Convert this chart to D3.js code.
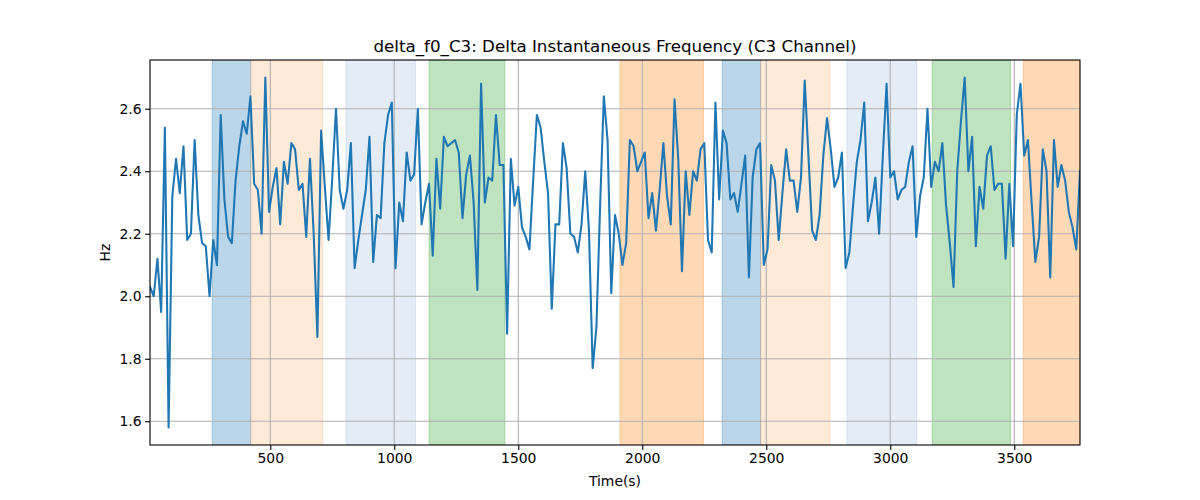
<!DOCTYPE html>
<html>
<head>
<meta charset="utf-8">
<script src="https://cdn.jsdelivr.net/npm/d3@7"></script>
<style>
  body { margin: 0; background: #fff; }
  text { font-family: "DejaVu Sans", sans-serif; fill: #000; }
</style>
</head>
<body>
<script>
var WIDTH = 1200,
    HEIGHT = 500;

var margin = {top: 60, right: 120, bottom: 55, left: 150};

// sample times (s)
var times = [
  15, 30, 45, 60, 75, 90, 105, 120, 135, 150, 165, 180, 195, 210, 225, 240, 255, 270, 285, 300,
  315, 330, 345, 360, 375, 390, 405, 420, 435, 450, 465, 480, 495, 510, 525, 540, 555, 570, 585, 600,
  615, 630, 645, 660, 675, 690, 705, 720, 735, 750, 765, 780, 795, 810, 825, 840, 855, 870, 885, 900,
  915, 930, 945, 960, 975, 990, 1005, 1020, 1035, 1050, 1065, 1080, 1095, 1110, 1125, 1140, 1155, 1170, 1185, 1200,
  1215, 1230, 1245, 1260, 1275, 1290, 1305, 1320, 1335, 1350, 1365, 1380, 1395, 1410, 1425, 1440, 1455, 1470, 1485, 1500,
  1515, 1530, 1545, 1560, 1575, 1590, 1605, 1620, 1635, 1650, 1665, 1680, 1695, 1710, 1725, 1740, 1755, 1770, 1785, 1800,
  1815, 1830, 1845, 1860, 1875, 1890, 1905, 1920, 1935, 1950, 1965, 1980, 1995, 2010, 2025, 2040, 2055, 2070, 2085, 2100,
  2115, 2130, 2145, 2160, 2175, 2190, 2205, 2220, 2235, 2250, 2265, 2280, 2295, 2310, 2325, 2340, 2355, 2370, 2385, 2400,
  2415, 2430, 2445, 2460, 2475, 2490, 2505, 2520, 2535, 2550, 2565, 2580, 2595, 2610, 2625, 2640, 2655, 2670, 2685, 2700,
  2715, 2730, 2745, 2760, 2775, 2790, 2805, 2820, 2835, 2850, 2865, 2880, 2895, 2910, 2925, 2940, 2955, 2970, 2985, 3000,
  3015, 3030, 3045, 3060, 3075, 3090, 3105, 3120, 3135, 3150, 3165, 3180, 3195, 3210, 3225, 3240, 3255, 3270, 3285, 3300,
  3315, 3330, 3345, 3360, 3375, 3390, 3405, 3420, 3435, 3450, 3465, 3480, 3495, 3510, 3525, 3540, 3555, 3570, 3585, 3600,
  3615, 3630, 3645, 3660, 3675, 3690, 3705, 3720, 3735, 3750, 3765
];

// delta f0, C3 channel (Hz)
var deltaF0 = [
  2.03, 2.00, 2.12, 1.95, 2.54, 1.58, 2.32, 2.44, 2.33, 2.48, 2.18, 2.20, 2.50, 2.26, 2.17, 2.16, 2.00, 2.18, 2.10, 2.58,
  2.31, 2.19, 2.17, 2.37, 2.48, 2.56, 2.52, 2.64, 2.36, 2.34, 2.20, 2.70, 2.27, 2.35, 2.41, 2.23, 2.43, 2.36, 2.49, 2.47,
  2.34, 2.36, 2.19, 2.44, 2.20, 1.87, 2.53, 2.35, 2.18, 2.38, 2.60, 2.34, 2.28, 2.34, 2.49, 2.09, 2.18, 2.26, 2.34, 2.51,
  2.11, 2.26, 2.25, 2.49, 2.58, 2.62, 2.09, 2.30, 2.24, 2.46, 2.37, 2.39, 2.60, 2.23, 2.30, 2.36, 2.13, 2.44, 2.28, 2.51,
  2.48, 2.49, 2.50, 2.46, 2.25, 2.39, 2.45, 2.30, 2.02, 2.68, 2.30, 2.38, 2.37, 2.58, 2.42, 2.42, 1.88, 2.44, 2.29, 2.35,
  2.22, 2.19, 2.15, 2.37, 2.58, 2.54, 2.43, 2.33, 1.96, 2.23, 2.23, 2.49, 2.41, 2.20, 2.19, 2.14, 2.23, 2.40, 2.21, 1.77,
  1.90, 2.29, 2.64, 2.50, 2.01, 2.26, 2.20, 2.10, 2.17, 2.50, 2.48, 2.40, 2.43, 2.46, 2.25, 2.33, 2.21, 2.34, 2.49, 2.32,
  2.23, 2.63, 2.44, 2.08, 2.40, 2.26, 2.40, 2.37, 2.47, 2.49, 2.18, 2.14, 2.62, 2.31, 2.53, 2.49, 2.31, 2.33, 2.27, 2.36,
  2.45, 2.06, 2.38, 2.47, 2.49, 2.10, 2.15, 2.42, 2.37, 2.18, 2.33, 2.47, 2.37, 2.37, 2.27, 2.38, 2.69, 2.45, 2.21, 2.18,
  2.26, 2.45, 2.57, 2.47, 2.35, 2.38, 2.46, 2.09, 2.14, 2.29, 2.43, 2.50, 2.62, 2.24, 2.30, 2.38, 2.20, 2.45, 2.68, 2.38,
  2.40, 2.31, 2.34, 2.35, 2.43, 2.48, 2.19, 2.32, 2.38, 2.60, 2.35, 2.43, 2.40, 2.49, 2.29, 2.17, 2.03, 2.40, 2.56, 2.70,
  2.40, 2.51, 2.16, 2.35, 2.28, 2.45, 2.48, 2.34, 2.36, 2.36, 2.12, 2.36, 2.16, 2.58, 2.68, 2.45, 2.50, 2.30, 2.11, 2.19,
  2.47, 2.40, 2.06, 2.50, 2.35, 2.42, 2.37, 2.27, 2.22, 2.15, 2.40
];

// shaded intervals (s) and their kind
var spanStart = [266, 421, 805, 1140, 1910, 2322, 2477, 2825, 3169, 3536];
var spanEnd   = [421, 711, 1086, 1446, 2247, 2477, 2757, 3107, 3485, 3765];
var spanKind  = ["blue", "peach", "pale", "green", "orange", "blue", "peach", "pale", "green", "orange"];

var xTicks = [500, 1000, 1500, 2000, 2500, 3000, 3500];
var yTicks = [1.6, 1.8, 2.0, 2.2, 2.4, 2.6];

var spanFill = {
  blue:   {c: "#1f77b4", a: 0.3},
  peach:  {c: "#ff7f0e", a: 0.16},
  pale:   {c: "#4c7fc8", a: 0.15},
  green:  {c: "#2ca02c", a: 0.3},
  orange: {c: "#ff7f0e", a: 0.3}
};

var data = times.map(function(t, i) { return {t: t, v: deltaF0[i]}; });
var spans = spanStart.map(function(s, i) { return {s: s, e: spanEnd[i], k: spanKind[i]}; });

var w = WIDTH - margin.left - margin.right,
    h = HEIGHT - margin.top - margin.bottom;

var ext = d3.extent(deltaF0),
    pad = (ext[1] - ext[0]) * 0.05;

var x = d3.scaleLinear().domain(d3.extent(times)).range([0, w]);
var y = d3.scaleLinear().domain([ext[0] - pad, ext[1] + pad]).range([h, 0]);

var svg = d3.select("body").append("svg")
      .attr("width", WIDTH)
      .attr("height", HEIGHT);

var g = svg.append("g")
      .attr("transform", "translate(" + margin.left + "," + margin.top + ")");

g.append("defs").append("clipPath").attr("id", "clip")
  .append("rect").attr("width", w).attr("height", h);

var plot = g.append("g").attr("clip-path", "url(#clip)");

// shaded spans
plot.selectAll(".span").data(spans)
  .enter().append("rect")
  .attr("class", "span")
  .attr("x", function(d) { return x(d.s); })
  .attr("y", 0)
  .attr("width", function(d) { return x(d.e) - x(d.s); })
  .attr("height", h)
  .style("fill", function(d) { return spanFill[d.k].c; })
  .style("fill-opacity", function(d) { return spanFill[d.k].a; })
  .style("stroke", function(d) { return spanFill[d.k].c; })
  .style("stroke-opacity", function(d) { return spanFill[d.k].a; })
  .style("stroke-width", 1);

// grid
plot.selectAll(".gx").data(xTicks)
  .enter().append("line")
  .attr("class", "gx")
  .attr("x1", function(d) { return x(d); })
  .attr("x2", function(d) { return x(d); })
  .attr("y1", 0).attr("y2", h)
  .style("stroke", "#b0b0b0").style("stroke-width", 1.1);

plot.selectAll(".gy").data(yTicks)
  .enter().append("line")
  .attr("class", "gy")
  .attr("y1", function(d) { return y(d); })
  .attr("y2", function(d) { return y(d); })
  .attr("x1", 0).attr("x2", w)
  .style("stroke", "#b0b0b0").style("stroke-width", 1.1);

// the series
var line = d3.line()
  .x(function(d) { return x(d.t); })
  .y(function(d) { return y(d.v); });

plot.append("path")
  .datum(data)
  .attr("d", line)
  .style("fill", "none")
  .style("stroke", "#1f77b4")
  .style("stroke-width", 2.08)
  .style("stroke-linejoin", "round")
  .style("stroke-linecap", "square");

// axes
var xAxis = g.append("g")
  .attr("transform", "translate(0," + h + ")")
  .call(d3.axisBottom(x).tickValues(xTicks).tickSize(4.9).tickPadding(3.5).tickFormat(d3.format("d")));

var yAxis = g.append("g")
  .call(d3.axisLeft(y).tickValues(yTicks).tickSize(4.9).tickPadding(3.5).tickFormat(d3.format(".1f")));

[xAxis, yAxis].forEach(function(a) {
  a.select(".domain").remove();
  a.selectAll("line").style("stroke", "#000").style("stroke-width", 1.1);
  a.selectAll("text").style("font-size", "13.9px").style("font-family", "DejaVu Sans, sans-serif");
});

// frame
g.append("rect")
  .attr("width", w).attr("height", h)
  .style("fill", "none").style("stroke", "#000").style("stroke-width", 1.1);

// labels
svg.append("text")
  .attr("x", margin.left + w / 2)
  .attr("y", margin.top - 8)
  .attr("text-anchor", "middle")
  .style("font-size", "16.7px")
  .text("delta_f0_C3: Delta Instantaneous Frequency (C3 Channel)");

svg.append("text")
  .attr("x", margin.left + w / 2)
  .attr("y", 486)
  .attr("text-anchor", "middle")
  .style("font-size", "13.9px")
  .text("Time(s)");

svg.append("text")
  .attr("transform", "translate(110," + (margin.top + h / 2) + ") rotate(-90)")
  .attr("text-anchor", "middle")
  .style("font-size", "13.9px")
  .text("Hz");
</script>
</body>
</html>
